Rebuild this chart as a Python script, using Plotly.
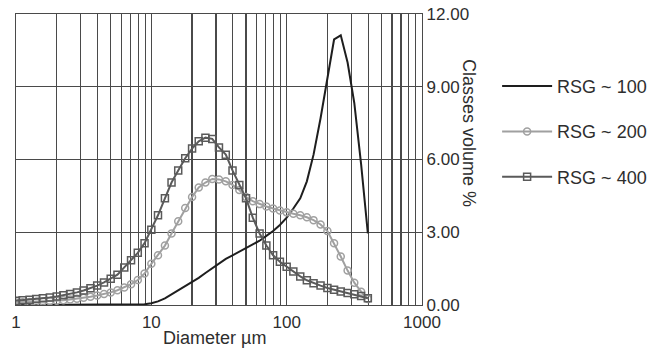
import plotly.graph_objects as go

# Particle size classes (µm)
diameter = [1.00, 1.12, 1.26, 1.41, 1.58, 1.78, 2.00, 2.24, 2.51, 2.82,
            3.16, 3.55, 3.98, 4.47, 5.01, 5.62, 6.31, 7.08, 7.94, 8.91,
            10.0, 11.2, 12.6, 14.1, 15.8, 17.8, 20.0, 22.4, 25.1, 28.2,
            31.6, 35.5, 39.8, 44.7, 50.1, 56.2, 63.1, 70.8, 79.4, 89.1,
            100, 112, 126, 141, 158, 178, 200, 224, 251, 282,
            316, 355, 398]

rsg100 = [0.00, 0.00, 0.00, 0.00, 0.00, 0.00, 0.00, 0.00, 0.00, 0.00,
          0.00, 0.00, 0.00, 0.00, 0.00, 0.00, 0.00, 0.00, 0.01, 0.03,
          0.07, 0.15, 0.27, 0.43, 0.60, 0.78, 0.95, 1.12, 1.32, 1.52,
          1.72, 1.90, 2.05, 2.20, 2.33, 2.48, 2.65, 2.85, 3.05, 3.30,
          3.60, 3.98, 4.40, 5.10, 6.20, 7.70, 9.40, 10.95, 11.12, 10.00,
          8.33, 5.80, 2.95]

rsg200 = [0.10, 0.11, 0.12, 0.13, 0.14, 0.16, 0.18, 0.20, 0.23, 0.26,
          0.30, 0.34, 0.39, 0.45, 0.52, 0.61, 0.72, 0.86, 1.03, 1.30,
          1.70, 2.05, 2.45, 2.95, 3.45, 4.00, 4.45, 4.85, 5.05, 5.20,
          5.18, 5.10, 4.95, 4.74, 4.45, 4.28, 4.16, 4.06, 3.98, 3.90,
          3.82, 3.76, 3.70, 3.62, 3.50, 3.32, 3.05, 2.55, 2.00, 1.42,
          0.92, 0.55, 0.25]

rsg400 = [0.18, 0.20, 0.22, 0.25, 0.28, 0.31, 0.35, 0.40, 0.45, 0.52,
          0.60, 0.69, 0.80, 0.93, 1.08, 1.25, 1.55, 1.85, 2.15, 2.55,
          3.10, 3.70, 4.40, 5.05, 5.55, 6.05, 6.45, 6.75, 6.90, 6.85,
          6.50, 6.20, 5.55, 4.95, 4.40, 3.60, 2.95, 2.45, 2.05, 1.78,
          1.58, 1.38, 1.18, 1.02, 0.90, 0.80, 0.70, 0.63, 0.56, 0.50,
          0.44, 0.37, 0.28]

series_names = ["RSG ~ 100", "RSG ~ 200", "RSG ~ 400"]

x_tickvals = [m * 10 ** e for e in range(3) for m in range(1, 10)] + [1000]
x_ticktext = [(str(v) if v in (1, 10, 100, 1000) else "") for v in x_tickvals]
y_tickvals = [0, 3, 6, 9, 12]
y_ticktext = ["0.00", "3.00", "6.00", "9.00", "12.00"]

FONT = "Liberation Sans, Arial, sans-serif"
GRID = "#4a4a4a"
TXT = "#2e2e2e"

fig = go.Figure()
fig.add_trace(go.Scatter(
    x=diameter, y=rsg100, name=series_names[0], mode="lines",
    line=dict(color="#1e1e1e", width=2), legendgroup="a"))
fig.add_trace(go.Scatter(
    x=diameter, y=rsg200, name=series_names[1], mode="lines+markers",
    line=dict(color="#a0a0a0", width=2),
    marker=dict(symbol="circle-open", size=7, color="#a0a0a0", line=dict(width=1.5)),
    legendgroup="b"))
fig.add_trace(go.Scatter(
    x=diameter, y=rsg400, name=series_names[2], mode="lines+markers",
    line=dict(color="#5a5a5a", width=2),
    marker=dict(symbol="square-open", size=7, color="#5a5a5a", line=dict(width=1.5)),
    legendgroup="c"))

fig.update_layout(
    width=658, height=349,
    margin=dict(l=16, r=236, t=14, b=44, autoexpand=False),
    paper_bgcolor="white", plot_bgcolor="white",
    font=dict(family=FONT, size=17, color=TXT),
    showlegend=True,
    hovermode=False,
    legend=dict(x=1.185, y=0.815, xanchor="left", yanchor="top",
                itemwidth=50, tracegroupgap=19,
                font=dict(family=FONT, size=18, color=TXT),
                bgcolor="rgba(0,0,0,0)"),
    xaxis=dict(type="log", range=[0, 3], tickvals=x_tickvals, ticktext=x_ticktext,
               showgrid=True, gridcolor=GRID, gridwidth=1.2,
               showline=True, linecolor=GRID, linewidth=1.2, mirror=True,
               ticks="outside", ticklen=1, tickcolor="rgba(0,0,0,0)",
               zeroline=False, tickfont=dict(size=17), automargin=False),
    yaxis=dict(range=[0, 12], side="right", tickvals=y_tickvals, ticktext=y_ticktext,
               showgrid=True, gridcolor=GRID, gridwidth=1.2,
               showline=True, linecolor=GRID, linewidth=1.2, mirror=True,
               ticks="", zeroline=False, tickfont=dict(size=17), automargin=False,
               ticklabeloverflow="allow"),
    annotations=[
        dict(text="Diameter µm", xref="paper", yref="paper", x=0.488, y=-0.072,
             xanchor="center", yanchor="top", showarrow=False,
             font=dict(family=FONT, size=18, color=TXT)),
        dict(text="Classes volume %", xref="paper", yref="paper", x=1.114, y=0.59,
             xanchor="center", yanchor="middle", textangle=90, showarrow=False,
             font=dict(family=FONT, size=18, color=TXT)),
    ],
)

fig.write_html("out.html", config={"displayModeBar": False, "staticPlot": True},
               post_script="document.body.style.margin='0';document.body.style.padding='0';")
